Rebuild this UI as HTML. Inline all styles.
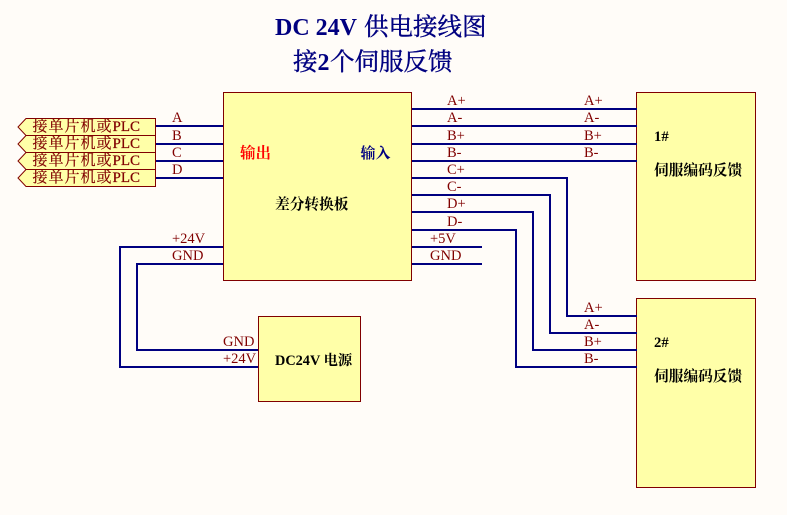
<!DOCTYPE html>
<html><head><meta charset="utf-8"><style>
html,body{margin:0;padding:0;background:#fffcf8;width:787px;height:515px;overflow:hidden}
svg{display:block}
text{font-family:"Liberation Serif","Noto Serif CJK SC",serif}
.l{font-size:14.5px;fill:#800000}
.p{font-size:15px;letter-spacing:1px;fill:#800000;stroke:#800000;stroke-width:.2}
.p tspan{letter-spacing:0}
.b{font-size:14.7px;font-weight:bold;fill:#000}
.t{font-size:24.5px;fill:#000080;stroke:#000080;stroke-width:.4}
.t .h{font-weight:bold;stroke:none;font-size:24px}
.w{fill:none;stroke:#000080;stroke-width:2}
.x{fill:#ffffa8;stroke:#800000;stroke-width:1}
</style></head><body>
<svg width="787" height="515" viewBox="0 0 787 515" xmlns="http://www.w3.org/2000/svg" shape-rendering="crispEdges">
<rect width="787" height="515" fill="#fffcf8"/>
<text class="t" x="275" y="35"><tspan class="h">DC 24V </tspan><tspan x="364">供电接线图</tspan></text>
<text class="t" x="293" y="70">接<tspan class="h" x="317.5">2</tspan><tspan x="330">个伺服反馈</tspan></text>

<rect class="x" x="223.5" y="92.5" width="188" height="188"/>
<rect class="x" x="636.5" y="92.5" width="119" height="188"/>
<rect class="x" x="636.5" y="298.5" width="119" height="189"/>
<rect class="x" x="258.5" y="316.5" width="102" height="85"/>

<g shape-rendering="geometricPrecision">
<polygon class="x" points="155.5,118.5 26,118.5 18,127 26,135.5 155.5,135.5"/>
<polygon class="x" points="155.5,135.5 26,135.5 18,144 26,152.5 155.5,152.5"/>
<polygon class="x" points="155.5,152.5 26,152.5 18,161 26,169.5 155.5,169.5"/>
<polygon class="x" points="155.5,169.5 26,169.5 18,178 26,186.5 155.5,186.5"/>
</g>
<g class="p" shape-rendering="geometricPrecision">
<text x="32.5" y="131">接单片机或<tspan>PLC</tspan></text>
<text x="32.5" y="148">接单片机或<tspan>PLC</tspan></text>
<text x="32.5" y="165">接单片机或<tspan>PLC</tspan></text>
<text x="32.5" y="182">接单片机或<tspan>PLC</tspan></text>
</g>

<path class="w" d="M156 126H223M156 144H223M156 161H223M156 178H223"/>
<path class="w" d="M412 109H637M412 126H637M412 144H637M412 161H637"/>
<path class="w" d="M412 178H567V316H637M412 195H550V333H637M412 212H533V350H637M412 230H516V367H637"/>
<path class="w" d="M412 247H482M412 264H482"/>
<path class="w" d="M223 247H120V367H258M223 264H137V350H258"/>

<g class="l">
<text x="172" y="122">A</text><text x="172" y="140">B</text><text x="172" y="157">C</text><text x="172" y="174">D</text>
<text x="447" y="105">A+</text><text x="447" y="122">A-</text><text x="447" y="140">B+</text><text x="447" y="157">B-</text>
<text x="447" y="174">C+</text><text x="447" y="191">C-</text><text x="447" y="208">D+</text><text x="447" y="226">D-</text>
<text x="430" y="243">+5V</text><text x="430" y="260">GND</text>
<text x="584" y="105">A+</text><text x="584" y="122">A-</text><text x="584" y="140">B+</text><text x="584" y="157">B-</text>
<text x="584" y="312">A+</text><text x="584" y="329">A-</text><text x="584" y="346">B+</text><text x="584" y="363">B-</text>
<text x="172" y="243">+24V</text><text x="172" y="260">GND</text>
<text x="223" y="346">GND</text><text x="223" y="363">+24V</text>
</g>

<g class="b">
<text x="240" y="158" style="fill:#ff0000;font-size:15.5px">输出</text>
<text x="360.5" y="158" style="fill:#000080;font-size:15px">输入</text>
<text x="275" y="209">差分转换板</text>
<text x="275" y="365" style="font-size:14.3px">DC24V 电源</text>
<text x="654" y="141">1#</text>
<text x="654" y="175">伺服编码反馈</text>
<text x="654" y="347">2#</text>
<text x="654" y="381">伺服编码反馈</text>
</g>
</svg>
</body></html>
